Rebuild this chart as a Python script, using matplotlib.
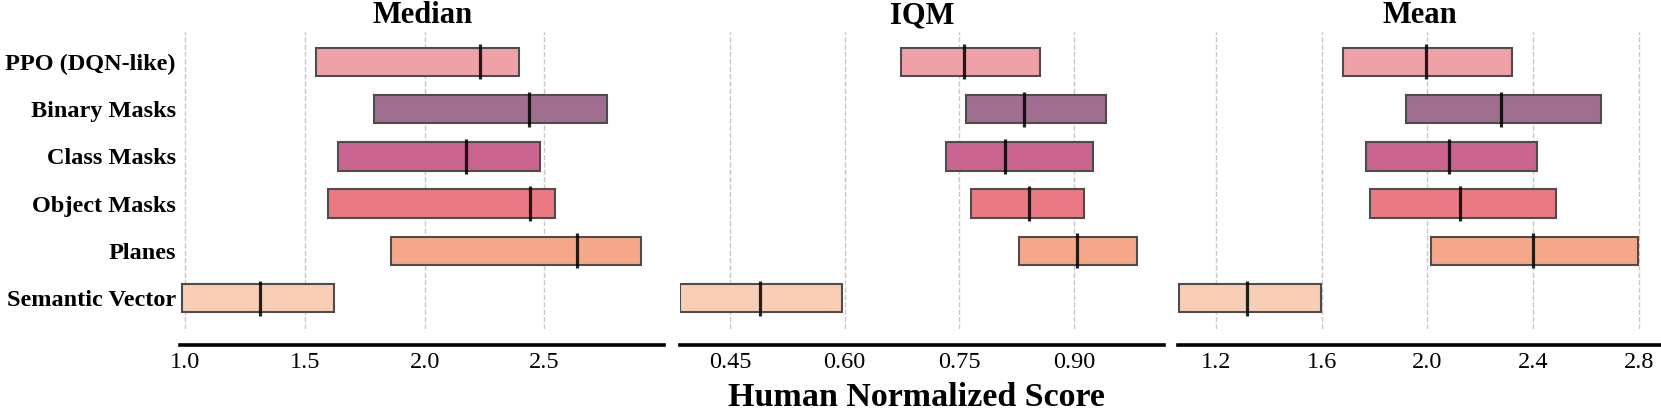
import numpy as np
import matplotlib
matplotlib.use("Agg")
import matplotlib.pyplot as plt

plt.rcParams['font.family'] = ['Liberation Serif', 'DejaVu Serif']

# Данные: методы и интервальные оценки (нижняя граница, точечная оценка, верхняя граница)
methods = ["PPO (DQN-like)", "Binary Masks", "Class Masks",
           "Object Masks", "Planes", "Semantic Vector"]
colors = ["#EFA1A8", "#A06E90", "#C9658F", "#EA7984", "#F5A78A", "#F8CEB6"]

median_low = [1.548, 1.787, 1.637, 1.596, 1.858, 0.988]
median_val = [2.229, 2.434, 2.173, 2.442, 2.636, 1.312]
median_high = [2.394, 2.762, 2.480, 2.544, 2.903, 1.623]

iqm_low = [0.6735, 0.759, 0.7324, 0.7647, 0.8276, 0.385]
iqm_val = [0.7555, 0.835, 0.810, 0.8407, 0.904, 0.4897]
iqm_high = [0.855, 0.942, 0.9245, 0.9127, 0.982, 0.597]

mean_low = [1.680, 1.918, 1.767, 1.783, 2.014, 1.059]
mean_val = [1.994, 2.280, 2.083, 2.125, 2.400, 1.319]
mean_high = [2.322, 2.656, 2.413, 2.485, 2.797, 1.599]

panels = [
    ("Median", median_low, median_val, median_high, [1.0, 1.5, 2.0, 2.5], ["1.0", "1.5", "2.0", "2.5"], (0.979, 3.001)),
    ("IQM", iqm_low, iqm_val, iqm_high, [0.45, 0.60, 0.75, 0.90], ["0.45", "0.60", "0.75", "0.90"], (0.3842, 1.0174)),
    ("Mean", mean_low, mean_val, mean_high, [1.2, 1.6, 2.0, 2.4, 2.8], ["1.2", "1.6", "2.0", "2.4", "2.8"], (1.0573, 2.889)),
]

W, H = 1661, 418
fig = plt.figure(figsize=(W / 100, H / 100), dpi=100)

lefts_px = [180.3, 679.7, 1178.3]
width_px = 484
top_px, bottom_px = 32, 329

n = len(methods)
ypos = np.arange(n)[::-1]

for k, (title, low, val, high, ticks, ticklabels, xlim) in enumerate(panels):
    ax = fig.add_axes([lefts_px[k] / W, 1 - bottom_px / H,
                       width_px / W, (bottom_px - top_px) / H])
    low = np.array(low)
    high = np.array(high)
    ax.barh(ypos, high - low, left=low, height=0.6, color=colors,
            edgecolor="#4d4d4d", linewidth=1.5, zorder=2)
    ax.vlines(val, ypos - 0.37, ypos + 0.37, color="k", alpha=0.85,
              linewidth=2.3, zorder=3)

    ax.set_xlim(*xlim)
    ax.set_ylim(-0.65, n - 1 + 0.63)
    ax.grid(True, axis="x", linestyle="--", color="#c8c8c8", linewidth=1.0, zorder=0)
    ax.set_axisbelow(True)

    for s in ["right", "top", "left"]:
        ax.spines[s].set_visible(False)
    ax.spines["bottom"].set_linewidth(2.6)
    ax.spines["bottom"].set_position(("outward", 11.5))
    ax.tick_params(axis="x", length=0, pad=5, labelsize=17.5)
    ax.tick_params(axis="y", length=0, pad=3.3, labelsize=17.5)

    ax.set_xticks(ticks)
    ax.set_xticklabels(ticklabels)

    if k == 0:
        ax.set_yticks(ypos)
        ax.set_yticklabels(methods, fontweight="bold")
    else:
        ax.set_yticks([])

    ax.set_title(title, fontsize=22, fontweight="bold", pad=6.5)

fig.text(916 / W, 1 - 398 / H, "Human Normalized Score", ha="center", va="center",
         fontsize=24.5, fontweight="bold")

fig.savefig("out.png", dpi=100)
